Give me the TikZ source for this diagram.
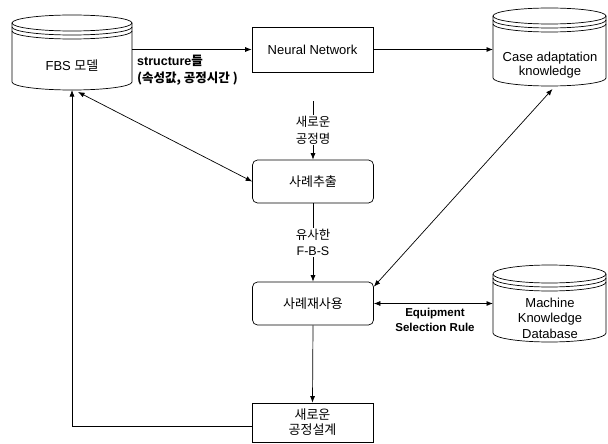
\documentclass[tikz,border=0pt]{standalone}
\usepackage{fontspec}
\setmainfont{Liberation Sans}
\newfontfamily\krf{Noto Sans CJK KR}
\newcommand\kr[1]{{\krf #1}}
\usetikzlibrary{arrows.meta}
\newcommand\drawcyl[5]{%
  \pgfmathsetmacro\cylcx{(#1+#3)/2}%
  \pgfmathsetmacro\cylrx{(#3-#1)/2}%
  \draw[ln] (\cylcx,#2+#5) ellipse [x radius=\cylrx, y radius=#5];
  \draw[ln] (#1,#2+#5) -- (#1,#4-#5) arc[start angle=180,end angle=0,x radius=\cylrx,y radius=#5] -- (#3,#2+#5);
  \draw[ln] (#1,#2+#5+4) arc[start angle=180,end angle=0,x radius=\cylrx,y radius=#5];
  \draw[ln] (#1,#2+#5+8) arc[start angle=180,end angle=0,x radius=\cylrx,y radius=#5];
}
\begin{document}
\begin{tikzpicture}[x=1pt,y=-1pt,
  ln/.style={line width=0.7pt, draw=black},
  arr/.style={ln, -{Latex[length=6.5pt,width=5pt]}},
  darr/.style={ln, {Latex[length=6.5pt,width=5pt]}-{Latex[length=6.5pt,width=5pt]}},
  box/.style={draw, line width=0.7pt, minimum width=121pt, minimum height=43pt, inner sep=0pt, font=\fontsize{13}{15}\selectfont, align=center},
  rbox/.style={box, rounded corners=5pt},
  ghost/.style={inner sep=0pt, outer sep=0pt},
  txt/.style={inner sep=0pt, font=\fontsize{13}{14.5}\selectfont, align=center},
  lbl/.style={inner sep=1pt, font=\fontsize{12.5}{16.5}\selectfont, align=center, fill=white},
  blbl/.style={inner sep=0pt, font=\bfseries\fontsize{11.5}{15}\selectfont, align=left}]
\useasboundingbox (0,0) rectangle (608,444);
\fill[white] (0,0) rectangle (608,444);

% cylinders
\drawcyl{12}{15}{132}{90}{8}
\drawcyl{493}{8}{606}{86}{8}
\drawcyl{493}{265}{606}{342}{9}
\node[ghost, minimum width=120pt, minimum height=75pt] (fbs) at (72,52.5) {};
\node[ghost, minimum width=113pt, minimum height=78pt] (case) at (549.5,47) {};
\node[ghost, minimum width=113pt, minimum height=77pt] (mach) at (549.5,303.5) {};
\node[txt] (fbst) at (72,66) {FBS \kr{모델}};
\node[txt] (caset) at (550,65) {Case adaptation\\knowledge};
\node[txt, font=\fontsize{13}{15.5}\selectfont] (macht) at (550,318) {Machine\\Knowledge\\Database};

% boxes
\node[box, minimum height=45pt] (nn) at (312.5,49.5) {Neural Network};
\node[rbox] (ext) at (313,181.5) {\kr{사례추출}};
\node[rbox] (reuse) at (313,303.5) {\kr{사례재사용}};
\node[box, minimum height=39pt] (newd) at (312.5,422.5) {\kr{새로운}\\\kr{공정설계}};

% connectors
\draw[arr] (fbs.east |- nn.west) -- (nn.west);
\node[blbl, font=\bfseries\fontsize{12.5}{16.5}\selectfont, anchor=north west] (slbl) at (137,55) {structure\kr{들}\\\kr{(속성값, 공정시간 )}};
\draw[arr] (nn.east) -- (nn.east -| case.west);

\coordinate (newtop) at (313,101);
\draw[arr] (newtop) -- node[lbl] (newl) {\kr{새로운}\\\kr{공정명}} (ext.north);
\draw[arr] (ext.south) -- node[lbl] (siml) {\kr{유사한}\\F-B-S} (reuse.north);
\draw[arr] (reuse.south) -- (newd.north);

\draw[arr] ([yshift=-4pt]newd.west) -| (fbs.south);
\draw[darr] ([xshift=6pt,yshift=-2pt]fbs.south) -- (ext.west);
\draw[darr] ([yshift=-5pt]reuse.north east) -- ([xshift=3pt,yshift=-3pt]case.south);
\draw[darr] (reuse.east) -- (mach.west);
\node[blbl, align=center, anchor=north] (eql) at (435,308) {Equipment\\Selection Rule};
\end{tikzpicture}
\end{document}
